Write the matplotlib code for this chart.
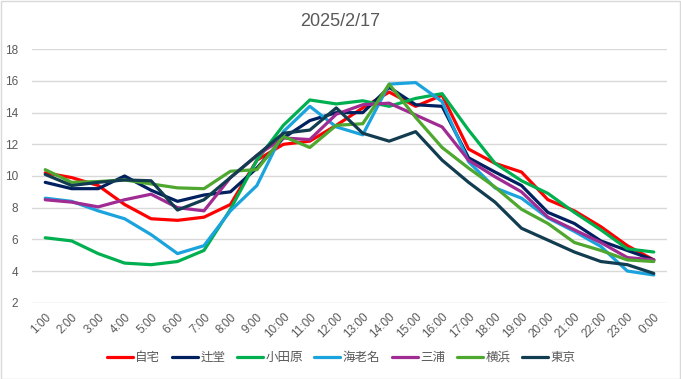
import matplotlib
matplotlib.use("Agg")
import matplotlib.pyplot as plt
from matplotlib.patches import Rectangle

plt.rcParams['font.family'] = ['Liberation Sans', 'Noto Sans CJK JP', 'DejaVu Sans']

hours = ["1:00", "2:00", "3:00", "4:00", "5:00", "6:00", "7:00", "8:00", "9:00", "10:00",
         "11:00", "12:00", "13:00", "14:00", "15:00", "16:00", "17:00", "18:00", "19:00",
         "20:00", "21:00", "22:00", "23:00", "0:00"]

jitaku = [10.2, 9.9, 9.4, 8.2, 7.3, 7.2, 7.4, 8.2, 11.0, 12.0, 12.2, 13.2, 14.3, 15.3,
          14.4, 15.1, 11.7, 10.8, 10.25, 8.5, 7.8, 6.8, 5.6, 4.7]
tsujido = [9.6, 9.2, 9.2, 10.0, 9.1, 8.4, 8.8, 9.0, 10.5, 12.4, 13.5, 14.0, 14.0, 15.6,
           14.5, 14.4, 11.15, 10.25, 9.4, 7.7, 7.0, 5.9, 5.3, 4.7]
odawara = [6.1, 5.9, 5.1, 4.5, 4.4, 4.6, 5.3, 7.9, 11.0, 13.2, 14.8, 14.55, 14.75, 14.4,
           14.9, 15.2, 12.9, 10.8, 9.7, 8.9, 7.7, 6.6, 5.4, 5.2]
ebina = [8.6, 8.4, 7.8, 7.3, 6.3, 5.1, 5.6, 7.8, 9.4, 12.8, 14.4, 13.1, 12.6, 15.8,
         15.9, 14.7, 10.9, 9.25, 8.6, 7.35, 6.5, 5.55, 4.0, 3.75]
miura = [8.5, 8.35, 8.05, 8.5, 8.85, 8.0, 7.8, 9.9, 11.3, 12.4, 12.3, 13.9, 14.5, 14.6,
         13.85, 13.1, 11.0, 9.95, 9.0, 7.4, 6.6, 5.8, 4.85, 4.7]
yokohama = [10.4, 9.6, 9.65, 9.75, 9.5, 9.25, 9.2, 10.3, 10.4, 12.5, 11.8, 13.2, 13.3, 15.8,
            13.7, 11.8, 10.5, 9.3, 7.9, 7.0, 5.8, 5.3, 4.7, 4.6]
tokyo = [10.1, 9.4, 9.6, 9.75, 9.7, 7.85, 8.5, 9.9, 11.3, 12.7, 12.9, 14.3, 12.7, 12.2,
         12.8, 11.0, 9.6, 8.35, 6.7, 5.95, 5.2, 4.6, 4.4, 3.85]

series_names = ["自宅", "辻堂", "小田原", "海老名", "三浦", "横浜", "東京"]
series_values = [jitaku, tsujido, odawara, ebina, miura, yokohama, tokyo]
colors = ["#FF0000", "#002060", "#00B050", "#1BA3DD", "#A02B93", "#4EA72E", "#123D50"]

yticks = [2, 4, 6, 8, 10, 12, 14, 16, 18]
title = "2025/2/17"

fig = plt.figure(figsize=(6.81, 3.79), dpi=100)
ax = fig.add_axes([32/681, 1 - 302.7/379, (667 - 32)/681, (302.7 - 49.3)/379])

x = list(range(len(hours)))
for name, vals, c in zip(series_names, series_values, colors):
    ax.plot(x, vals, color=c, lw=2.3, label=name, solid_joinstyle='round', solid_capstyle='round')

ax.set_xlim(-0.5, len(hours) - 0.5)
ax.set_ylim(2, 18)
ax.set_yticks(yticks)
ax.set_xticks(x)
ax.set_xticklabels(hours, rotation=45, ha='right', rotation_mode='anchor')
ax.tick_params(axis='both', length=0, colors='#595959', labelsize=8.5)
ax.tick_params(axis='x', pad=6)
ax.tick_params(axis='y', pad=10)
ax.grid(axis='y', color='#D9D9D9', lw=1)
ax.set_axisbelow(True)
for s in ax.spines.values():
    s.set_visible(False)

fig.text(0.5, 1 - 22/379, title, ha='center', va='center', fontsize=13, color='#595959')

leg = fig.legend(loc='center', bbox_to_anchor=(341/681, 1 - 358/379), ncol=7, frameon=False,
                 fontsize=9, handlelength=2.1, handletextpad=0.2, columnspacing=0.9,
                 labelcolor='#595959')

fig.add_artist(Rectangle((0.001, 0.001), 0.998, 0.997, transform=fig.transFigure,
                         fill=False, edgecolor='#D9D9D9', lw=1))

fig.savefig("out.png", dpi=100)
